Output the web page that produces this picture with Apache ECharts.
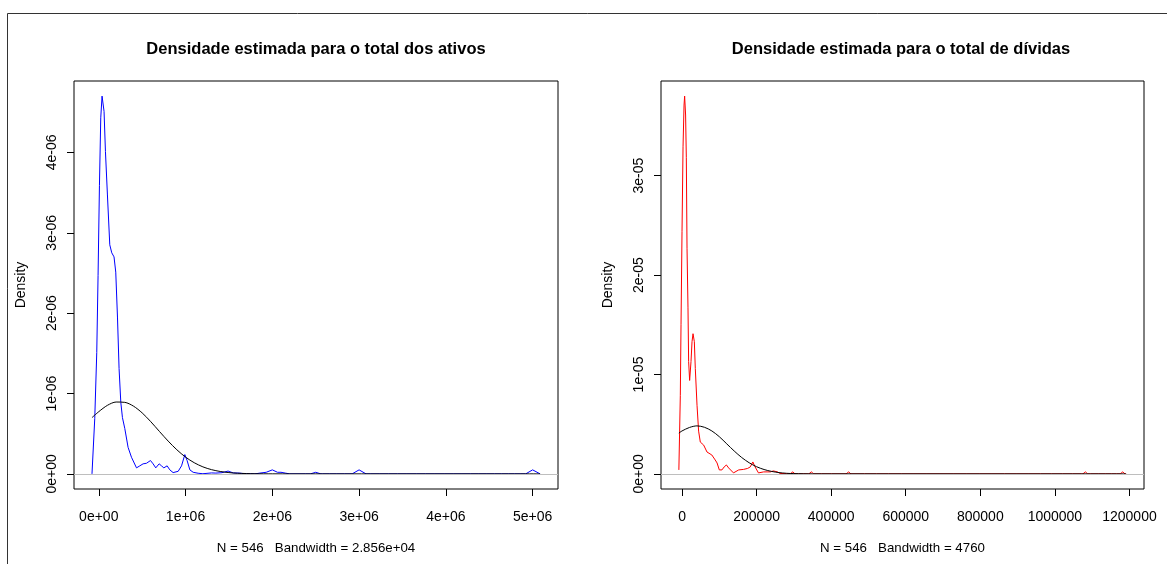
<!DOCTYPE html>
<html>
<head>
<meta charset="utf-8">
<script src="https://cdn.jsdelivr.net/npm/echarts@6/dist/echarts.min.js"></script>
<style>
  html, body { margin: 0; padding: 0; background: #fff; }
  #main { width: 1167px; height: 564px; }
</style>
</head>
<body>
<div id="main"></div>
<script>
// total dos ativos: kernel density (blue) and normal curve (black)
var ativosX = [-78000, -46000, -23000, -8000, 8000, 23000, 38000, 61000, 77000, 100000,
  127000, 150000, 176000, 196000, 216000, 234000, 254000, 273000, 300000, 338000,
  377000, 435000, 473000, 511000, 550000, 596000, 626000, 657000, 696000, 723000,
  750000, 788000, 819000, 857000, 915000, 954000, 992000, 1018000, 1050000, 1088000,
  1145000, 1200000, 1300000, 1350000, 1420000, 1490000, 1550000, 1620000, 1680000, 1800000,
  1870000, 1930000, 2000000, 2060000, 2100000, 2150000, 2200000, 2440000, 2500000, 2560000,
  2920000, 3000000, 3080000, 4920000, 5000000, 5086000];
var ativosDens = [0, 0.69e-6, 1.51e-6, 2.47e-6, 3.59e-6, 4.43e-6, 4.70e-6, 4.51e-6, 4.01e-6, 3.47e-6,
  2.85e-6, 2.75e-6, 2.70e-6, 2.51e-6, 1.94e-6, 1.31e-6, 0.89e-6, 0.70e-6, 0.565e-6, 0.33e-6,
  0.207e-6, 0.075e-6, 0.10e-6, 0.125e-6, 0.132e-6, 0.166e-6, 0.125e-6, 0.075e-6, 0.125e-6, 0.10e-6,
  0.075e-6, 0.10e-6, 0.05e-6, 0.016e-6, 0.032e-6, 0.10e-6, 0.24e-6, 0.166e-6, 0.05e-6, 0.02e-6,
  0.008e-6, 0.002e-6, 0.012e-6, 0.01e-6, 0.015e-6, 0.035e-6, 0.012e-6, 0.01e-6, 0.002e-6, 0,
  0.012e-6, 0.02e-6, 0.05e-6, 0.02e-6, 0.02e-6, 0.01e-6, 0, 0, 0.02e-6, 0,
  0, 0.05e-6, 0, 0, 0.05e-6, 0];
var ativosNormX = [-78000, 0, 100000, 200000, 300000, 400000, 500000, 600000, 700000, 800000,
  900000, 1000000, 1100000, 1200000, 1300000, 1400000, 1500000, 1600000, 1800000, 2000000,
  2500000, 5086000];
var ativosNorm = [0.70e-6, 0.774e-6, 0.853e-6, 0.894e-6, 0.890e-6, 0.843e-6, 0.759e-6, 0.649e-6, 0.527e-6, 0.408e-6,
  0.300e-6, 0.209e-6, 0.139e-6, 0.0875e-6, 0.0525e-6, 0.030e-6, 0.016e-6, 0.008e-6, 0.002e-6, 0.0004e-6,
  0, 0];
var ativosXTicks = [0, 1e6, 2e6, 3e6, 4e6, 5e6];
var ativosXLabels = ['0e+00', '1e+06', '2e+06', '3e+06', '4e+06', '5e+06'];
var ativosYTicks = [0, 1e-6, 2e-6, 3e-6, 4e-6];
var ativosYLabels = ['0e+00', '1e-06', '2e-06', '3e-06', '4e-06'];

// total de dividas: kernel density (red) and normal curve (black)
var dividasX = [-8500, -4600, -2700, 0, 2700, 5400, 7000, 9600, 11500, 13400,
  16000, 17700, 20400, 24100, 26800, 29500, 33000, 35600, 40200, 44500,
  49000, 53600, 58000, 62400, 67000, 71000, 80000, 85000, 89000, 94000,
  100000, 107000, 113000, 119000, 125000, 129000, 138000, 152000, 165000, 176000,
  183000, 190000, 196000, 205000, 219000, 237000, 245000, 250000, 256000, 262000,
  290000, 297000, 303000, 340000, 347000, 353000, 440000, 447000, 453000, 1075000,
  1082000, 1088000, 1175000, 1182000, 1188000, 1191000];
var dividasDens = [0.04e-5, 0.79e-5, 1.50e-5, 2.44e-5, 3.29e-5, 3.71e-5, 3.80e-5, 3.61e-5, 3.18e-5, 2.27e-5,
  1.67e-5, 1.13e-5, 0.94e-5, 1.13e-5, 1.33e-5, 1.41e-5, 1.33e-5, 1.06e-5, 0.69e-5, 0.43e-5,
  0.32e-5, 0.31e-5, 0.29e-5, 0.29e-5, 0.22e-5, 0.21e-5, 0.19e-5, 0.18e-5, 0.14e-5, 0.11e-5,
  0.04e-5, 0.04e-5, 0.07e-5, 0.09e-5, 0.06e-5, 0.04e-5, 0.01e-5, 0.04e-5, 0.045e-5, 0.055e-5,
  0.07e-5, 0.12e-5, 0.07e-5, 0.01e-5, 0.02e-5, 0.02e-5, 0.03e-5, 0.045e-5, 0.02e-5, 0.005e-5,
  0, 0.02e-5, 0, 0, 0.02e-5, 0, 0, 0.02e-5, 0, 0,
  0.02e-5, 0, 0, 0.02e-5, 0, 0];
var dividasNormX = [-8500, 0, 20000, 40000, 60000, 80000, 100000, 120000, 140000, 160000,
  180000, 200000, 220000, 240000, 260000, 280000, 300000, 350000, 1191000];
var dividasNorm = [0.41e-5, 0.432e-5, 0.467e-5, 0.483e-5, 0.469e-5, 0.432e-5, 0.374e-5, 0.302e-5, 0.23e-5, 0.165e-5,
  0.112e-5, 0.072e-5, 0.044e-5, 0.025e-5, 0.013e-5, 0.006e-5, 0.003e-5, 0.0005e-5, 0];
var dividasXTicks = [0, 200000, 400000, 600000, 800000, 1000000, 1200000];
var dividasXLabels = ['0', '200000', '400000', '600000', '800000', '1000000', '1200000'];
var dividasYTicks = [0, 1e-5, 2e-5, 3e-5];
var dividasYLabels = ['0e+00', '1e-05', '2e-05', '3e-05'];

function zip(xs, ys) {
  return xs.map(function (x, i) { return [x, ys[i]]; });
}
function labeller(ticks, labels) {
  return function (v) {
    for (var i = 0; i < ticks.length; i++) {
      if (Math.abs(v - ticks[i]) <= Math.abs(ticks[1] - ticks[0]) * 1e-6) return labels[i];
    }
    return '';
  };
}

var FONT = 'Liberation Sans, Arial, sans-serif';

function xAxisOf(idx, min, max, ticks, labels, name) {
  return {
    type: 'value', gridIndex: idx, min: min, max: max,
    axisLine: { show: false, onZero: false },
    splitLine: { show: false },
    axisTick: { show: true, length: 7, customValues: ticks, lineStyle: { color: '#000', width: 1 } },
    axisLabel: { customValues: ticks, formatter: labeller(ticks, labels), margin: 21,
      color: '#000', fontSize: 14, fontFamily: FONT },
    name: name, nameLocation: 'middle', nameGap: 53,
    nameTextStyle: { color: '#000', fontSize: 13.3, fontFamily: FONT }
  };
}
function yAxisOf(idx, min, max, ticks, labels) {
  return {
    type: 'value', gridIndex: idx, min: min, max: max,
    axisLine: { show: false, onZero: false },
    splitLine: { show: false },
    axisTick: { show: true, length: 7, customValues: ticks, lineStyle: { color: '#000', width: 1 } },
    axisLabel: { customValues: ticks, formatter: labeller(ticks, labels), rotate: 90, margin: 15,
      color: '#000', fontSize: 14, fontFamily: FONT },
    name: 'Density', nameLocation: 'middle', nameGap: 46,
    nameTextStyle: { color: '#000', fontSize: 14, fontFamily: FONT }
  };
}

var zeroLine = {
  silent: true, symbol: 'none', label: { show: false },
  lineStyle: { color: '#BEBEBE', width: 1, type: 'solid' },
  data: [{ yAxis: 0 }]
};

var chart = echarts.init(document.getElementById('main'), null, { renderer: 'canvas' });
chart.setOption({
  animation: false,
  backgroundColor: '#fff',
  title: [
    { text: 'Densidade estimada para o total dos ativos', left: 311, top: 36, textAlign: 'center',
      textStyle: { fontSize: 16.5, fontWeight: 'bold', color: '#000', fontFamily: FONT } },
    { text: 'Densidade estimada para o total de dívidas', left: 896, top: 36, textAlign: 'center',
      textStyle: { fontSize: 16.5, fontWeight: 'bold', color: '#000', fontFamily: FONT } }
  ],
  grid: [
    { left: 74, top: 81, width: 484, height: 408, show: true, borderColor: '#000', borderWidth: 1, backgroundColor: 'transparent' },
    { left: 661, top: 81, width: 483, height: 408, show: true, borderColor: '#000', borderWidth: 1, backgroundColor: 'transparent' }
  ],
  xAxis: [
    xAxisOf(0, -285300, 5292300, ativosXTicks, ativosXLabels, 'N = 546   Bandwidth = 2.856e+04'),
    xAxisOf(1, -56400, 1239000, dividasXTicks, dividasXLabels, 'N = 546   Bandwidth = 4760')
  ],
  yAxis: [
    yAxisOf(0, -0.188e-6, 4.888e-6, ativosYTicks, ativosYLabels),
    yAxisOf(1, -0.152e-5, 3.952e-5, dividasYTicks, dividasYLabels)
  ],
  graphic: [
    { type: 'line', shape: { x1: 7.5, y1: 13.5, x2: 1167, y2: 13.5 }, style: { stroke: '#333', lineWidth: 1 } },
    { type: 'line', shape: { x1: 7.5, y1: 13.5, x2: 7.5, y2: 564 }, style: { stroke: '#333', lineWidth: 1 } }
  ],
  series: [
    { type: 'line', xAxisIndex: 0, yAxisIndex: 0, data: zip(ativosX, ativosDens), showSymbol: false,
      lineStyle: { color: '#0000FF', width: 1 }, z: 2, markLine: zeroLine },
    { type: 'line', xAxisIndex: 0, yAxisIndex: 0, data: zip(ativosNormX, ativosNorm), showSymbol: false, smooth: 0.3,
      lineStyle: { color: '#000', width: 1 }, z: 4 },
    { type: 'line', xAxisIndex: 1, yAxisIndex: 1, data: zip(dividasX, dividasDens), showSymbol: false,
      lineStyle: { color: '#FF0000', width: 1 }, z: 2, markLine: zeroLine },
    { type: 'line', xAxisIndex: 1, yAxisIndex: 1, data: zip(dividasNormX, dividasNorm), showSymbol: false, smooth: 0.3,
      lineStyle: { color: '#000', width: 1 }, z: 4 }
  ]
});
</script>
</body>
</html>
